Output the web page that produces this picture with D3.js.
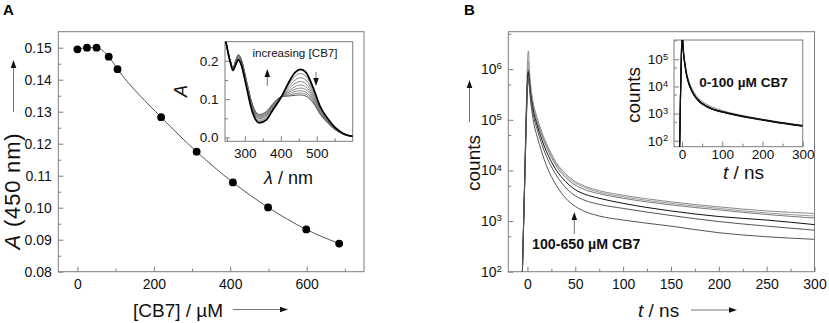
<!DOCTYPE html>
<html>
<head>
<meta charset="utf-8">
<script src="https://cdn.jsdelivr.net/npm/d3@7"></script>
<style>
    body { margin: 0; background: #fff; }
    svg { font-family: "Liberation Sans", Arial, sans-serif; }
</style>
</head>
<body>
<div id="chart"></div>
<script>
'use strict';

// ---------- Panel A: titration at 450 nm ----------
const cb7Conc = [0, 25, 50, 82, 105, 219, 312, 407, 499, 599, 685];
const abs450 = [0.1495, 0.1500, 0.1500, 0.1472, 0.1433, 0.1283, 0.1175, 0.1079, 0.1001, 0.0932, 0.0888];

// ---------- Panel A inset: absorption spectra (0 -> max CB7) ----------
const lambdaNm = [245, 260, 267, 275, 282, 290, 305, 320, 340, 360, 380, 400, 420, 440, 455, 470, 490, 510, 530, 550, 575, 600];
const spectra = [
    [.262, .195, .175, .190, .203, .190, .130, .070, .038, .046, .075, .103, .140, .170, .178, .170, .130, .080, .050, .027, .010, .003],
    [.262, .196, .176, .192, .205, .192, .133, .073, .042, .050, .077, .103, .135, .160, .167, .160, .123, .077, .048, .026, .010, .003],
    [.262, .197, .178, .194, .207, .195, .136, .077, .045, .053, .080, .104, .130, .150, .156, .150, .117, .073, .046, .025, .009, .003],
    [.262, .197, .179, .196, .209, .197, .139, .080, .049, .057, .082, .104, .125, .141, .146, .140, .111, .070, .044, .024, .009, .003],
    [.262, .198, .180, .197, .211, .199, .141, .082, .051, .059, .084, .105, .120, .133, .137, .132, .106, .068, .043, .023, .009, .003],
    [.262, .199, .181, .199, .213, .201, .143, .085, .054, .062, .086, .105, .117, .126, .129, .125, .101, .065, .042, .023, .008, .003],
    [.262, .199, .182, .200, .214, .203, .145, .087, .056, .064, .088, .106, .113, .120, .122, .118, .097, .063, .040, .022, .008, .003],
    [.262, .200, .182, .201, .215, .204, .147, .089, .058, .066, .089, .106, .110, .114, .116, .113, .093, .062, .039, .022, .008, .003],
    [.262, .200, .183, .202, .216, .205, .148, .090, .060, .068, .090, .106, .108, .110, .111, .108, .090, .060, .038, .021, .008, .003]
];

// ---------- Panel B: decays, 100-650 uM CB7 (log10 counts) ----------
const tNs = [-6, -5, -3, -1, 0, 1, 2, 3, 5, 7, 10, 15, 20, 30, 40, 50, 60, 75, 100, 150, 200, 250, 300];
const decayLog = [
    [1.4, 2.2, 3.80, 5.40, 6.10, 6.36, 6.00, 5.75, 5.45, 5.25, 5.05, 4.76, 4.53, 4.16, 3.93, 3.78, 3.69, 3.60, 3.51, 3.38, 3.28, 3.20, 3.15],
    [1.4, 2.2, 3.75, 5.30, 5.90, 6.15, 5.90, 5.68, 5.40, 5.20, 5.00, 4.73, 4.50, 4.13, 3.90, 3.75, 3.66, 3.57, 3.48, 3.35, 3.25, 3.16, 3.10],
    [1.4, 2.2, 3.70, 5.20, 5.80, 6.00, 5.82, 5.62, 5.35, 5.15, 4.96, 4.69, 4.46, 4.09, 3.86, 3.71, 3.62, 3.54, 3.45, 3.32, 3.22, 3.13, 3.06],
    [1.4, 2.2, 3.70, 5.20, 5.75, 5.95, 5.78, 5.58, 5.30, 5.10, 4.90, 4.61, 4.37, 4.01, 3.78, 3.62, 3.53, 3.45, 3.35, 3.20, 3.09, 3.02, 2.93],
    [1.4, 2.2, 3.65, 5.10, 5.65, 5.85, 5.70, 5.50, 5.22, 5.02, 4.82, 4.52, 4.27, 3.91, 3.66, 3.50, 3.41, 3.33, 3.25, 3.11, 2.99, 2.90, 2.82],
    [1.4, 2.2, 3.60, 5.05, 5.60, 5.80, 5.65, 5.42, 5.12, 4.90, 4.68, 4.36, 4.09, 3.71, 3.45, 3.29, 3.19, 3.10, 3.02, 2.90, 2.77, 2.69, 2.64]
];
const decayColor = ['#8a8a8a', '#9a9a9a', '#7a7a7a', '#111', '#555', '#555'];

// ---------- Panel B inset: decays, 0-100 uM CB7 (log10 counts) ----------
const tNsInset = [-7, -5.5, -4, -2, 0, 1, 2, 4, 7, 10, 15, 20, 30, 40, 50, 75, 100, 150, 200, 250, 300];
const decayInsetLog = [
    [1.0, 2.2, 3.5, 4.9, 5.9, 5.90, 5.62, 5.25, 4.90, 4.62, 4.30, 4.08, 3.78, 3.58, 3.45, 3.24, 3.11, 2.93, 2.79, 2.67, 2.57],
    [1.0, 2.2, 3.5, 4.9, 5.9, 5.90, 5.60, 5.20, 4.85, 4.55, 4.22, 4.00, 3.70, 3.51, 3.38, 3.18, 3.07, 2.91, 2.78, 2.66, 2.56],
    [1.0, 2.2, 3.5, 4.9, 5.9, 5.88, 5.58, 5.18, 4.83, 4.53, 4.20, 3.98, 3.68, 3.49, 3.36, 3.17, 3.06, 2.90, 2.77, 2.65, 2.55],
    [1.0, 2.2, 3.5, 4.9, 5.9, 5.85, 5.55, 5.15, 4.80, 4.50, 4.18, 3.96, 3.67, 3.48, 3.35, 3.16, 3.05, 2.89, 2.76, 2.64, 2.54]
];

// Config
const W = 829, H = 323;
const AXIS_COL = '#7d7d7d';

const svg = d3.select('#chart')
    .append('svg')
    .attr('width', W)
    .attr('height', H);

let clipCount = 0;

// Frame + inward ticks, built from d3 axes
function drawAxes(g, x, y, o) {
    const bottom = y.range()[0], top = y.range()[1];
    const left = x.range()[0], right = x.range()[1];

    // minor ticks
    g.append('g')
        .attr('transform', `translate(0,${bottom})`)
        .call(d3.axisBottom(x).tickValues(o.xMinor).tickSize(-3).tickFormat(''));
    g.append('g')
        .attr('transform', `translate(${left},0)`)
        .call(d3.axisLeft(y).tickValues(o.yMinor).tickSize(-3).tickFormat(''));

    // major ticks + labels
    const xa = g.append('g')
        .attr('transform', `translate(0,${bottom})`)
        .call(d3.axisBottom(x).tickValues(o.xMajor).tickSize(-5).tickPadding(o.xPad).tickFormat(o.xFmt));
    const ya = g.append('g')
        .attr('transform', `translate(${left},0)`)
        .call(d3.axisLeft(y).tickValues(o.yMajor).tickSize(-5).tickPadding(o.yPad).tickFormat(o.yFmt));

    g.selectAll('.domain').remove();
    g.selectAll('.tick line').attr('stroke', AXIS_COL);
    g.selectAll('g').attr('font-family', null).attr('font-size', o.fs);
    g.selectAll('.tick text').attr('fill', '#111');

    // superscript powers on log axes
    if (o.logY) {
        ya.selectAll('.tick text').each(function (d) {
            const t = d3.select(this).text(null);
            t.append('tspan').text('10');
            t.append('tspan').attr('dy', '-0.5em').attr('font-size', '0.68em')
                .text(Math.round(Math.log10(d)));
        });
    }

    // box
    g.append('rect')
        .attr('x', left).attr('y', top)
        .attr('width', right - left).attr('height', bottom - top)
        .attr('fill', 'none')
        .attr('stroke', AXIS_COL)
        .attr('stroke-width', 1);

    return {xa, ya};
}

function clipFor(g, x, y) {
    const id = `clip${clipCount++}`;
    g.append('clipPath').attr('id', id)
        .append('rect')
        .attr('x', x.range()[0]).attr('y', y.range()[1])
        .attr('width', x.range()[1] - x.range()[0])
        .attr('height', y.range()[0] - y.range()[1]);
    return g.append('g').attr('clip-path', `url(#${id})`);
}

function arrow(g, x1, y1, x2, y2, col) {
    const ang = Math.atan2(y2 - y1, x2 - x1);
    const len = 8, hw = 2.8;
    g.append('line')
        .attr('x1', x1).attr('y1', y1)
        .attr('x2', x2 - Math.cos(ang) * len * 0.6).attr('y2', y2 - Math.sin(ang) * len * 0.6)
        .attr('stroke', col || '#777').attr('stroke-width', 1);
    const bx = x2 - Math.cos(ang) * len, by = y2 - Math.sin(ang) * len;
    const px = -Math.sin(ang) * hw, py = Math.cos(ang) * hw;
    g.append('path')
        .attr('d', `M${x2},${y2}L${bx + px},${by + py}L${bx - px},${by - py}Z`)
        .attr('fill', '#111');
}

function rotLabel(g, x, y, parts, fs) {
    const t = g.append('text')
        .attr('transform', `translate(${x},${y}) rotate(-90)`)
        .attr('text-anchor', 'middle')
        .attr('font-size', fs)
        .attr('fill', '#111');
    parts.forEach(p => t.append('tspan').attr('font-style', p.i ? 'italic' : null).text(p.s));
    return t;
}

function hLabel(g, x, y, parts, fs, anchor) {
    const t = g.append('text')
        .attr('x', x).attr('y', y)
        .attr('text-anchor', anchor || 'start')
        .attr('font-size', fs)
        .attr('fill', '#111');
    parts.forEach(p => t.append('tspan').attr('font-style', p.i ? 'italic' : null).text(p.s));
    return t;
}

// Panel letters
svg.append('text').attr('x', 3).attr('y', 15).attr('font-size', 15).attr('font-weight', 'bold').text('A');
svg.append('text').attr('x', 464).attr('y', 15).attr('font-size', 15).attr('font-weight', 'bold').text('B');

// ================= Panel A =================
const gA = svg.append('g');
const xA = d3.scaleLinear().domain([-50, 750]).range([58.3, 364]);
const yA = d3.scaleLinear().domain([0.08, 0.155]).range([271.7, 31.7]);

drawAxes(gA, xA, yA, {
    xMajor: [0, 200, 400, 600], xMinor: [100, 300, 500, 700],
    yMajor: d3.range(8, 16).map(v => v / 100), yMinor: d3.range(8, 15).map(v => v / 100 + 0.005),
    xFmt: d3.format('d'), yFmt: d3.format('.2f'),
    xPad: 7, yPad: 6.5, fs: 14
});

const plotA = clipFor(gA, xA, yA);
plotA.append('path')
    .datum(cb7Conc.map((c, i) => [c, abs450[i]]))
    .attr('fill', 'none')
    .attr('stroke', '#555')
    .attr('stroke-width', 1)
    .attr('d', d3.line().x(d => xA(d[0])).y(d => yA(d[1])).curve(d3.curveMonotoneX));
plotA.selectAll('circle')
    .data(cb7Conc.map((c, i) => [c, abs450[i]]))
    .join('circle')
    .attr('cx', d => xA(d[0]))
    .attr('cy', d => yA(d[1]))
    .attr('r', 3.9)
    .attr('fill', '#000');

// axis titles
rotLabel(gA, 20, 191, [{s: 'A', i: true}, {s: ' (450 nm)'}], 22).attr('letter-spacing', 0.8);
arrow(gA, 13.5, 112, 13.5, 60);
hLabel(gA, 133, 317, [{s: '[CB7] / \u00b5M'}], 19);
arrow(gA, 233, 309.5, 288, 309.5);

// ---- inset A ----
const gAi = svg.append('g');
const xAi = d3.scaleLinear().domain([245, 600]).range([225, 352.7]);
const yAi = d3.scaleLinear().domain([-0.01, 0.25]).range([141.3, 41.7]);

gAi.append('rect')
    .attr('x', 225).attr('y', 41.7).attr('width', 127.7).attr('height', 99.6)
    .attr('fill', '#fff');
drawAxes(gAi, xAi, yAi, {
    xMajor: [300, 400, 500], xMinor: [250, 350, 450, 550],
    yMajor: [0, 0.1, 0.2], yMinor: [0.05, 0.15],
    xFmt: d3.format('d'), yFmt: d3.format('.1f'),
    xPad: 7.5, yPad: 6.5, fs: 13.5
});

const plotAi = clipFor(gAi, xAi, yAi);
const specLine = d3.line()
    .x((d, i) => xAi(lambdaNm[i]))
    .y(d => yAi(d))
    .curve(d3.curveMonotoneX);
spectra.slice().reverse().forEach((s, k) => {
    const idx = spectra.length - 1 - k;
    plotAi.append('path')
        .datum(s)
        .attr('fill', 'none')
        .attr('stroke', idx === 0 ? '#000' : (idx === spectra.length - 1 ? '#333' : '#6a6a6a'))
        .attr('stroke-width', idx === 0 ? 1.7 : 0.8)
        .attr('d', specLine);
});

hLabel(gAi, 295, 57, [{s: 'increasing [CB7]'}], 11.6, 'middle');
arrow(gAi, 267.3, 86, 267.3, 69);
arrow(gAi, 316, 72, 316, 86);
rotLabel(gAi, 187, 91, [{s: 'A', i: true}], 18);
hLabel(gAi, 288.5, 184, [{s: '\u03bb', i: true}, {s: ' / nm'}], 18, 'middle');

// ================= Panel B =================
const gB = svg.append('g');
const xB = d3.scaleLinear().domain([-20, 300]).range([508.3, 814.5]);
const yB = d3.scaleLog().domain([100, Math.pow(10, 6.74)]).range([271.7, 31.7]);

drawAxes(gB, xB, yB, {
    xMajor: d3.range(0, 301, 50), xMinor: d3.range(25, 300, 50),
    yMajor: [1e2, 1e3, 1e4, 1e5, 1e6], yMinor: [5e2, 5e3, 5e4, 5e5, 5e6],
    xFmt: d3.format('d'), yFmt: () => '',
    xPad: 7, yPad: 6.5, fs: 14, logY: true
});

const plotB = clipFor(gB, xB, yB);
const decayLine = d3.line()
    .x((d, i) => xB(tNs[i]))
    .y(d => yB(Math.pow(10, d)))
    .curve(d3.curveMonotoneX);
decayLog.forEach((s, i) => {
    plotB.append('path')
        .datum(s)
        .attr('fill', 'none')
        .attr('stroke', decayColor[i])
        .attr('stroke-width', 1)
        .attr('d', decayLine);
});

rotLabel(gB, 480, 163, [{s: 'counts'}], 19);
arrow(gB, 469.5, 122, 469.5, 80);
hLabel(gB, 638, 317, [{s: 't', i: true}, {s: ' / ns'}], 19);
arrow(gB, 691, 310, 737, 310);

hLabel(gB, 532, 249, [{s: '100-650 \u00b5M CB7'}], 14.2).attr('font-weight', 'bold');
arrow(gB, 574.3, 234, 574.3, 212);

// ---- inset B ----
const gBi = svg.append('g');
const xBi = d3.scaleLinear().domain([-20, 300]).range([674, 802.7]);
const yBi = d3.scaleLog().domain([Math.pow(10, 1.78), Math.pow(10, 5.71)]).range([146.7, 40]);

gBi.append('rect')
    .attr('x', 674).attr('y', 40).attr('width', 128.7).attr('height', 106.7)
    .attr('fill', '#fff');
drawAxes(gBi, xBi, yBi, {
    xMajor: [0, 100, 200, 300], xMinor: [50, 150, 250],
    yMajor: [1e2, 1e3, 1e4, 1e5], yMinor: [5e2, 5e3, 5e4, 5e5],
    xFmt: d3.format('d'), yFmt: () => '',
    xPad: 2.5, yPad: 6, fs: 13.5, logY: true
});

const plotBi = clipFor(gBi, xBi, yBi);
const insetLine = d3.line()
    .x((d, i) => xBi(tNsInset[i]))
    .y(d => yBi(Math.pow(10, d)))
    .curve(d3.curveMonotoneX);
decayInsetLog.forEach((s, i) => {
    plotBi.append('path')
        .datum(s)
        .attr('fill', 'none')
        .attr('stroke', i === 0 ? '#888' : '#111')
        .attr('stroke-width', i === 0 ? 1 : 1.2)
        .attr('d', insetLine);
});

hLabel(gBi, 743.5, 86.5, [{s: '0-100 \u00b5M CB7'}], 13.6, 'middle').attr('font-weight', 'bold');
rotLabel(gBi, 640, 95, [{s: 'counts'}], 19);
hLabel(gBi, 743.5, 178.5, [{s: 't', i: true}, {s: ' / ns'}], 19, 'middle');
</script>
</body>
</html>
